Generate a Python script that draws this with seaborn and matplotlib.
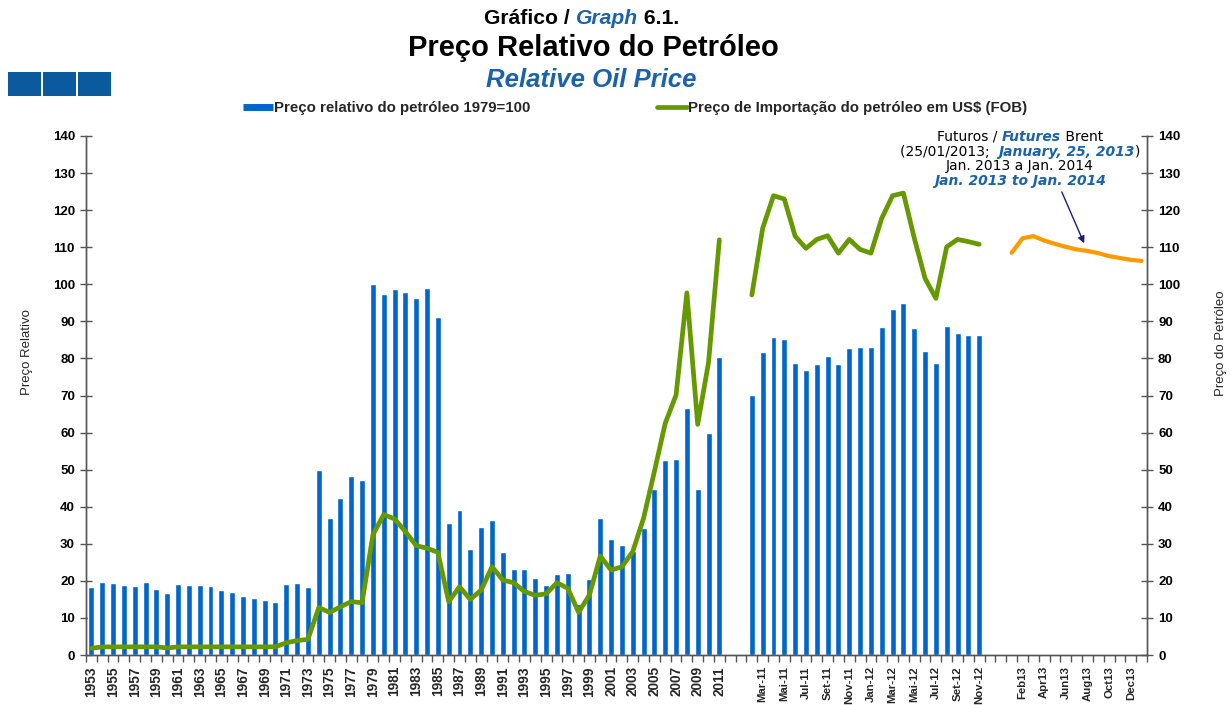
import numpy as np
import pandas as pd
import matplotlib
matplotlib.use("Agg")
import matplotlib.pyplot as plt
import seaborn as sns
from matplotlib.lines import Line2D
from matplotlib.offsetbox import TextArea, HPacker, VPacker, AnnotationBbox
from matplotlib.patches import Rectangle

# ---------------------------------------------------------------- data
years = [str(y) for y in range(1953, 2012)]

# relative oil price index (1979 = 100), annual
rel_annual = [18.3, 19.7, 19.3, 18.8, 18.6, 19.7, 17.8, 16.8, 19.2, 18.9,
              18.9, 18.7, 17.6, 17.0, 15.9, 15.4, 14.9, 14.4, 19.2, 19.4,
              18.3, 50.0, 36.9, 42.4, 48.4, 47.3, 100.0, 97.3, 98.6, 97.8,
              96.2, 98.9, 91.3, 35.5, 39.0, 28.6, 34.4, 36.3, 27.9, 23.3,
              23.1, 20.7, 18.8, 21.8, 22.1, 13.8, 20.6, 36.9, 31.2, 29.6,
              28.0, 34.2, 44.9, 52.6, 52.9, 66.5, 44.7, 60.0, 80.3]

# import price of oil in US$ (FOB), annual
imp_annual = [1.8, 2.2, 2.2, 2.2, 2.2, 2.2, 2.2, 1.9, 2.2, 2.2,
              2.2, 2.2, 2.2, 2.2, 2.2, 2.2, 2.2, 2.2, 3.3, 3.9,
              4.2, 12.8, 11.5, 13.0, 14.4, 14.1, 32.4, 37.9, 36.7, 33.3,
              29.5, 28.8, 27.7, 14.4, 18.4, 15.0, 17.5, 23.8, 20.2, 19.5,
              17.1, 16.1, 16.5, 19.5, 18.0, 11.5, 16.2, 26.7, 22.9, 23.8,
              27.9, 36.9, 49.5, 62.5, 70.1, 97.7, 62.2, 78.9, 112.0]

months = ["Fev-11", "Mar-11", "Abr-11", "Mai-11", "Jun-11", "Jul-11",
          "Ago-11", "Set-11", "Out-11", "Nov-11", "Dez-11", "Jan-12",
          "Fev-12", "Mar-12", "Abr-12", "Mai-12", "Jun-12", "Jul-12",
          "Ago-12", "Set-12", "Out-12", "Nov-12"]
rel_monthly = [70.1, 81.6, 85.7, 85.3, 78.7, 76.9, 78.4, 80.6, 78.4, 82.7,
               83.0, 83.0, 88.6, 93.2, 95.0, 88.2, 82.0, 78.8, 88.7, 86.8,
               86.3, 86.4]
imp_monthly = [97.1, 115.1, 123.9, 123.0, 113.0, 109.7, 112.1, 113.1, 108.4,
               112.1, 109.4, 108.4, 117.8, 123.9, 124.6, 112.5, 101.6, 96.2,
               110.1, 112.1, 111.5, 110.8]

fut_months = ["Jan13", "Feb13", "Mar13", "Apr13", "May13", "Jun13", "Jul13",
              "Aug13", "Sep13", "Oct13", "Nov13", "Dec13", "Jan14"]
brent_futures = [108.5, 112.4, 113.0, 111.8, 110.9, 110.1, 109.4, 109.0,
                 108.4, 107.6, 107.1, 106.6, 106.3]

# ---------------------------------------------------------------- layout of categories
gap1 = ["_g1", "_g2"]
gap2 = ["_g3", "_g4"]
order = years + gap1 + months + gap2 + fut_months
pos = {c: i for i, c in enumerate(order)}

shown = set(years[::2]) | set(months[1::2]) | set(fut_months[1::2])
tick_labels = [c if c in shown else "" for c in order]

bars = pd.DataFrame({"cat": years + months, "val": rel_annual + rel_monthly})

BLUE = "#0066CC"
GREEN = "#669900"
ORANGE = "#FF9900"
TITLE_BLUE = "#1A62AA"
NAVY = "#1C1C78"

sns.set_theme(style="white")
plt.rcParams["font.family"] = ["Liberation Sans", "DejaVu Sans"]

fig = plt.figure(figsize=(12.31, 7.05), dpi=100)
ax = fig.add_axes([86 / 1231, 1 - 655 / 705, (1147 - 86) / 1231, (655 - 136) / 705])

sns.barplot(data=bars, x="cat", y="val", order=order, color=BLUE,
            saturation=1, width=0.55, errorbar=None, ax=ax)

ax2 = ax.twinx()
seg_annual = pd.DataFrame({"x": [pos[c] for c in years], "y": imp_annual})
seg_monthly = pd.DataFrame({"x": [pos[c] for c in months], "y": imp_monthly})
seg_fut = pd.DataFrame({"x": [pos[c] for c in fut_months], "y": brent_futures})
for seg, col, lw in [(seg_annual, GREEN, 3.4), (seg_monthly, GREEN, 3.4),
                     (seg_fut, ORANGE, 3.0)]:
    sns.lineplot(data=seg, x="x", y="y", color=col, lw=lw, ax=ax2,
                 solid_joinstyle="round", solid_capstyle="round")

for a in (ax, ax2):
    a.set_ylim(0, 140)
    a.set_xlim(-0.5, len(order) - 0.5)
    a.set_yticks(range(0, 141, 10))
    for s in a.spines.values():
        s.set_color("#555555")
        s.set_linewidth(1.0)
    a.spines["top"].set_visible(False)
    a.tick_params(axis="y", direction="inout", length=8, width=1,
                  colors="#555555", labelcolor="black", labelsize=9.5, pad=4)
    for t in a.get_yticklabels():
        t.set_fontweight("bold")

ax.set_xticks(range(len(order)))
ax.set_xticklabels(tick_labels, rotation=90, fontsize=8.2, fontweight="bold")
for lab, cat in zip(ax.get_xticklabels(), order):
    if cat in years:
        lab.set_fontsize(9.8)
ax.set_xticks(np.arange(-0.5, len(order), 1.0), minor=True)
ax.tick_params(axis="x", which="major", length=0, pad=8)
ax.tick_params(axis="x", which="minor", direction="out", length=5, width=1,
               color="#555555", bottom=True)
ax.set_xlabel("")
ax.set_ylabel("Preço Relativo", fontsize=9.5)
ax.yaxis.set_label_coords(-0.05, 0.584)
ax2.set_ylabel("Preço do Petróleo", fontsize=9.5)
ax2.yaxis.set_label_coords(1.064, 0.60)
ax2.set_xlabel("")

# ---------------------------------------------------------------- titles
def line_box(parts, size):
    boxes = []
    for txt, color, style in parts:
        boxes.append(TextArea(txt, textprops=dict(color=color, fontsize=size,
                                                  fontweight="bold", fontstyle=style)))
    return HPacker(children=boxes, align="baseline", pad=0, sep=0)

head = line_box([("Gráfico / ", "black", "normal"), ("Graph", TITLE_BLUE, "italic"),
                 (" 6.1.", "black", "normal")], 15.2)
ax.add_artist(AnnotationBbox(head, (582 / 1231, 1 - 19 / 705), xycoords="figure fraction",
                             frameon=False, box_alignment=(0.5, 0.5), annotation_clip=False))
fig.text(593 / 1231, 1 - 48 / 705, "Preço Relativo do Petróleo", ha="center", va="center",
         fontsize=21, fontweight="bold", color="black")
fig.text(591 / 1231, 1 - 80 / 705, "Relative Oil Price", ha="center", va="center",
         fontsize=18.5, fontweight="bold", fontstyle="italic", color=TITLE_BLUE)

# three decorative blocks in the header
for x0 in (8, 43, 78):
    fig.add_artist(Rectangle((x0 / 1231, 1 - 96 / 705), 33 / 1231, 24 / 705,
                             transform=fig.transFigure, color="#0B5A9E", lw=0))

# ---------------------------------------------------------------- legend
handles = [Line2D([], [], color=BLUE, lw=5, solid_capstyle="butt"),
           Line2D([], [], color=GREEN, lw=3.4)]
labels = ["Preço relativo do petróleo 1979=100",
          "Preço de Importação do petróleo em US$ (FOB)"]
fig.legend(handles, labels, loc="center", bbox_to_anchor=(635 / 1231, 1 - 108 / 705),
           ncol=2, frameon=False, prop=dict(size=10.8, weight="bold"),
           handlelength=2.0, handletextpad=0.1, columnspacing=8.4)

# ---------------------------------------------------------------- futures note
def note_line(parts):
    boxes = []
    for txt, kind in parts:
        if kind == "en":
            props = dict(color=TITLE_BLUE, fontsize=10, fontweight="bold",
                         fontstyle="italic", family="DejaVu Sans")
        else:
            props = dict(color="black", fontsize=10, family="DejaVu Sans")
        boxes.append(TextArea(txt, textprops=props))
    return HPacker(children=boxes, align="baseline", pad=0, sep=0)

note = VPacker(children=[
    note_line([("Futuros / ", "pt"), ("Futures", "en"), (" Brent", "pt")]),
    note_line([("(25/01/2013;  ", "pt"), ("January, 25, 2013", "en"), (")", "pt")]),
    note_line([("Jan. 2013 a Jan. 2014", "pt")]),
    note_line([("Jan. 2013 to Jan. 2014", "en")]),
], align="center", pad=0, sep=0.5)
ax2.add_artist(AnnotationBbox(note, (1020 / 1231, 1 - 159 / 705), xycoords="figure fraction",
                              frameon=False, box_alignment=(0.5, 0.5), annotation_clip=False))

aug = fut_months.index("Aug13")
ax2.annotate("", xy=(pos["Aug13"], brent_futures[aug]), xytext=(-18.5, 42.5),
             textcoords="offset points",
             arrowprops=dict(arrowstyle="-|>", color=NAVY, lw=1.0, shrinkA=0, shrinkB=6,
                             mutation_scale=10))

fig.savefig("out.png", dpi=100)
